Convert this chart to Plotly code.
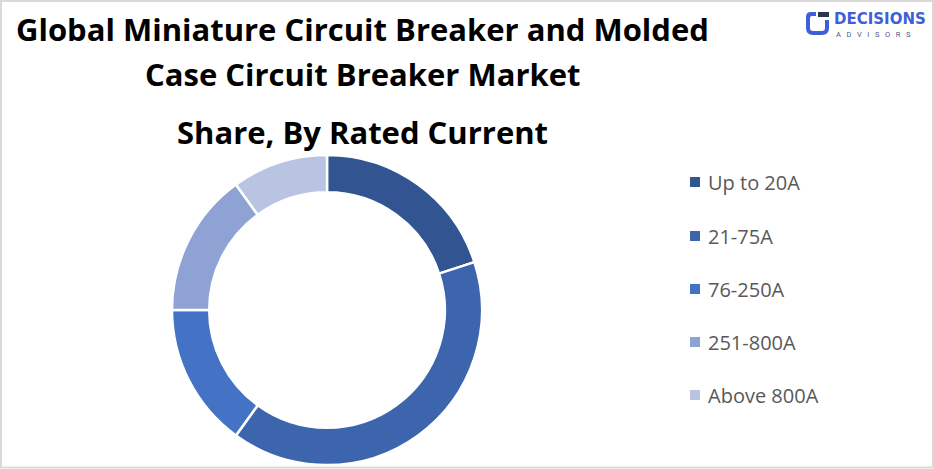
import plotly.graph_objects as go

categories = ["Up to 20A", "21-75A", "76-250A", "251-800A", "Above 800A"]
values = [20, 40, 15, 15, 10]
colors = ["#325592", "#3d65ae", "#4472c4", "#8fa2d4", "#b9c3e2"]

title_lines = ["Global Miniature Circuit Breaker and Molded",
               "Case Circuit Breaker Market",
               "Share, By Rated Current"]

W, H = 934, 469


def X(px):
    return px / W


def Y(py):
    return 1 - py / H


fig = go.Figure()
fig.add_trace(go.Pie(
    labels=categories, values=values, hole=0.76, sort=False,
    direction="clockwise", rotation=0,
    marker=dict(colors=colors, line=dict(color="white", width=2.5)),
    textinfo="none", hoverinfo="label+value", showlegend=False,
    domain=dict(x=[X(327 - 155), X(327 + 155)], y=[Y(465), Y(155)]),
))

annotations = []
shapes = []
# title
title_y = [29, 74, 132]
for line, ty in zip(title_lines, title_y):
    annotations.append(dict(text=f"<b>{line}</b>", x=X(362), y=Y(ty),
                            xref="paper", yref="paper", showarrow=False,
                            xanchor="center", yanchor="middle",
                            font=dict(family="Open Sans", size=31, color="#000000")))

# legend
leg_y = [182, 236, 289, 342, 395]
for cat, col, ly in zip(categories, colors, leg_y):
    shapes.append(dict(type="rect", xref="paper", yref="paper",
                       x0=X(690), x1=X(700), y0=Y(ly + 5), y1=Y(ly - 5),
                       fillcolor=col, line=dict(width=0)))
    annotations.append(dict(text=cat, x=X(706), y=Y(ly), xref="paper", yref="paper",
                            showarrow=False, xanchor="left", yanchor="middle",
                            font=dict(family="Open Sans", size=20, color="#595959")))

# logo
annotations.append(dict(text="<b>DECISIONS</b>", x=X(832), y=Y(19), xref="paper", yref="paper",
                        showarrow=False, xanchor="left", yanchor="middle",
                        font=dict(family="DejaVu Sans", size=15, color="#3e5fd8")))
annotations.append(dict(text="&nbsp;&nbsp;&nbsp;".join("ADVISORS"),
                        x=X(834), y=Y(34), xref="paper", yref="paper",
                        showarrow=False, xanchor="left", yanchor="middle",
                        font=dict(family="Roboto", size=7.5, color="#4a5a8a")))


def pt(x, y):
    return f"{X(x)},{Y(y)}"


shapes.append(dict(type="path", xref="paper", yref="paper",
                   path=(f"M {pt(816,12)} L {pt(811,12)} Q {pt(806,12)} {pt(806,17)} "
                         f"L {pt(806,28)} Q {pt(806,35)} {pt(813,35)} L {pt(822,35)} "
                         f"Q {pt(829,35)} {pt(829,28)} L {pt(829,20)} L {pt(825,20)} "
                         f"L {pt(825,28)} Q {pt(825,31)} {pt(822,31)} L {pt(813,31)} "
                         f"Q {pt(810,31)} {pt(810,28)} L {pt(810,18)} Q {pt(810,16)} {pt(812,16)} "
                         f"L {pt(816,16)} Z"),
                   fillcolor="#3e5fd8", line=dict(width=0)))
shapes.append(dict(type="rect", xref="paper", yref="paper",
                   x0=X(818), x1=X(829), y0=Y(17), y1=Y(12),
                   fillcolor="#2c3550", line=dict(width=0)))
# border
shapes.append(dict(type="rect", xref="paper", yref="paper", x0=X(1), x1=X(933),
                   y0=Y(467.5), y1=Y(1), line=dict(color="#d9d9d9", width=2)))

fig.update_layout(width=W, height=H, margin=dict(l=0, r=0, t=0, b=0),
                  paper_bgcolor="white", plot_bgcolor="white",
                  annotations=annotations, shapes=shapes)

fig.write_html("out.html", config={"displayModeBar": False},
               post_script="document.body.style.margin='0';")
